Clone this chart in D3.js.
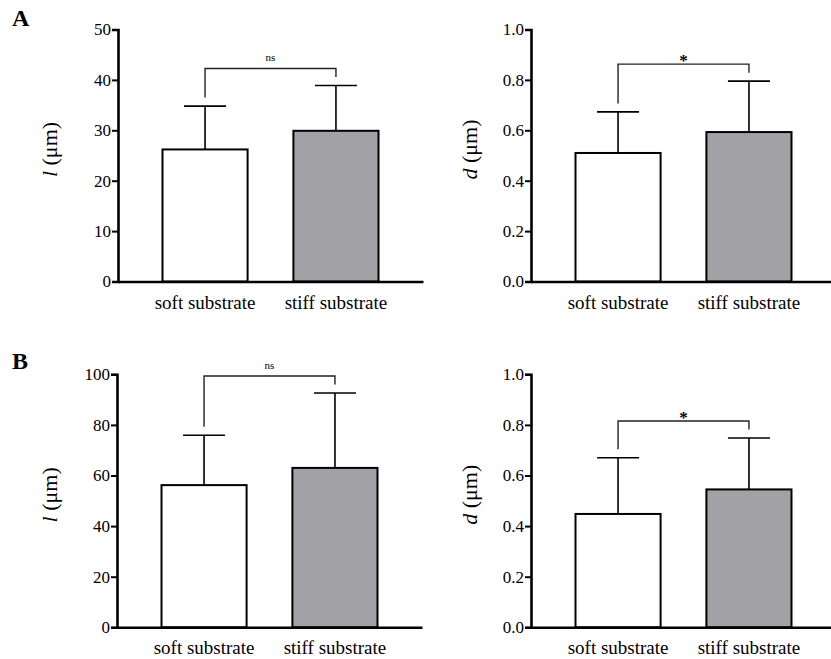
<!DOCTYPE html>
<html>
<head>
<meta charset="utf-8">
<script src="https://cdn.jsdelivr.net/npm/d3@7"></script>
<style>
  body { margin: 0; background: #fff; }
</style>
</head>
<body>
<svg id="fig" width="831" height="659" style="font-family: 'Liberation Serif', 'DejaVu Serif', serif;"></svg>
<script>
// categories
const categories = ["soft substrate", "stiff substrate"];

// panel A
const lengthA = [26.2, 29.9];
const lengthAErr = [8.6, 9.0];
const diamA = [0.510, 0.593];
const diamAErr = [0.163, 0.202];

// panel B
const lengthB = [56.2, 63.0];
const lengthBErr = [19.7, 29.6];
const diamB = [0.448, 0.545];
const diamBErr = [0.222, 0.203];

// significance labels
const sigLabels = ["ns", "*", "ns", "*"];

// tick values
const ticksLenA = [0, 10, 20, 30, 40, 50];
const ticksLenB = [0, 20, 40, 60, 80, 100];
const ticksDiam = [0, 0.2, 0.4, 0.6, 0.8, 1.0];

const barFill = ["#ffffff", "#a2a1a5"];
const serif = "'Liberation Serif', 'DejaVu Serif', serif";

const svg = d3.select("#fig");

// 各パネルを描く
function drawPanel(opt) {
  const g = svg.append("g");
  const x = d3.scaleBand().domain(categories).range([opt.x0, opt.x0 + 305]).paddingInner(0.35).paddingOuter(0.34);
  const y = d3.scaleLinear().domain([0, opt.max]).range([opt.bottom, opt.top]);

  // bars
  g.selectAll("rect.bar")
    .data(opt.values)
    .enter().append("rect")
    .attr("class", "bar")
    .attr("x", (d, i) => x(categories[i]))
    .attr("y", d => y(d))
    .attr("width", x.bandwidth())
    .attr("height", d => y(0) - y(d))
    .attr("fill", (d, i) => barFill[i])
    .attr("stroke", "#000")
    .attr("stroke-width", 2);

  // error bars (upper only)
  const cx = i => x(categories[i]) + x.bandwidth() / 2;
  opt.values.forEach((v, i) => {
    const top = y(v + opt.err[i]);
    g.append("line")
      .attr("x1", cx(i)).attr("x2", cx(i))
      .attr("y1", y(v)).attr("y2", top)
      .attr("stroke", "#000").attr("stroke-width", 1.6);
    g.append("line")
      .attr("x1", cx(i) - 21).attr("x2", cx(i) + 21)
      .attr("y1", top).attr("y2", top)
      .attr("stroke", "#000").attr("stroke-width", 1.6);
  });

  // axes
  const yAxis = d3.axisLeft(y).tickValues(opt.ticks).tickSize(6).tickPadding(1).tickFormat(opt.fmt);
  const ya = g.append("g").attr("transform", `translate(${opt.x0},0)`).call(yAxis);
  const xa = g.append("g").attr("transform", `translate(0,${opt.bottom})`)
    .call(d3.axisBottom(x).tickSize(0).tickPadding(10));
  [ya, xa].forEach(a => {
    a.attr("font-family", null);
    a.select(".domain").attr("stroke", "#000").attr("stroke-width", 2.6);
    a.selectAll(".tick line").attr("stroke", "#000").attr("stroke-width", 2);
    a.selectAll("text").style("font-family", serif).attr("fill", "#000");
  });
  ya.attr("font-size", null).selectAll("text").style("font-size", "17px");
  xa.attr("font-size", null).selectAll("text").style("font-size", "19px").attr("dy", "0.9em");

  // y axis label
  const lab = g.append("text")
    .attr("transform", `translate(${opt.x0 + opt.labelDx},${(opt.top + opt.bottom) / 2 - 6}) rotate(-90)`)
    .attr("text-anchor", "middle")
    .style("font-family", serif)
    .style("font-size", "22px");
  lab.append("tspan").attr("font-style", "italic").text(opt.sym);
  lab.append("tspan").text(" (μm)");

  // significance bracket
  const errTops = opt.values.map((v, i) => y(v + opt.err[i]));
  const by = Math.min(...errTops) - 17;
  g.append("path")
    .attr("d", `M${cx(0)},${errTops[0] - 8.5}V${by}H${cx(1)}V${errTops[1] - 8.5}`)
    .attr("fill", "none").attr("stroke", "#222").attr("stroke-width", 1.4);
  const mid = (cx(0) + cx(1)) / 2;
  if (opt.sig === "ns") {
    g.append("text").attr("x", mid).attr("y", by - 7)
      .attr("text-anchor", "middle").style("font-family", serif).style("font-size", "11px").text("ns");
  } else {
    g.append("text").attr("x", mid).attr("y", by + 2)
      .attr("text-anchor", "middle").style("font-family", serif).style("font-size", "17px")
      .attr("font-weight", "bold").text("*");
  }
}

const fmtInt = d3.format("d");
const fmt1 = d3.format(".1f");

drawPanel({ x0: 118, top: 29.5, bottom: 281.5, max: 50, values: lengthA, err: lengthAErr, ticks: ticksLenA, fmt: fmtInt, sym: "l", labelDx: -61, sig: sigLabels[0] });
drawPanel({ x0: 531, top: 29.5, bottom: 281.5, max: 1.0, values: diamA, err: diamAErr, ticks: ticksDiam, fmt: fmt1, sym: "d", labelDx: -54, sig: sigLabels[1] });
drawPanel({ x0: 117, top: 374.3, bottom: 627.3, max: 100, values: lengthB, err: lengthBErr, ticks: ticksLenB, fmt: fmtInt, sym: "l", labelDx: -60, sig: sigLabels[2] });
drawPanel({ x0: 531, top: 374.3, bottom: 627.3, max: 1.0, values: diamB, err: diamBErr, ticks: ticksDiam, fmt: fmt1, sym: "d", labelDx: -54, sig: sigLabels[3] });

// panel letters
svg.append("text").attr("x", 12).attr("y", 26).style("font-family", serif).style("font-size", "24px").attr("font-weight", "bold").text("A");
svg.append("text").attr("x", 12).attr("y", 369).style("font-family", serif).style("font-size", "24px").attr("font-weight", "bold").text("B");
</script>
</body>
</html>
